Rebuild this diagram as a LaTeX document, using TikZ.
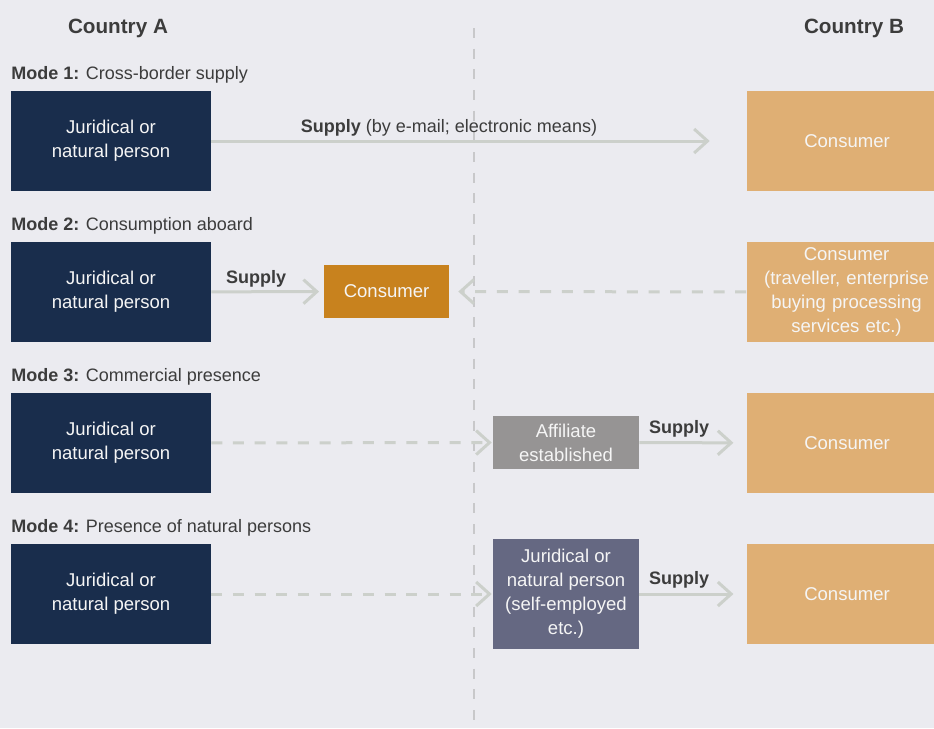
\documentclass[tikz,border=0pt]{standalone}
\usepackage{fontspec}
\setmainfont{Liberation Sans}
\usetikzlibrary{arrows.meta}
\definecolor{bgc}{RGB}{235,235,240}
\definecolor{navy}{RGB}{25,45,76}
\definecolor{sand}{RGB}{223,175,116}
\definecolor{ochre}{RGB}{200,130,30}
\definecolor{affgrey}{RGB}{150,148,148}
\definecolor{slate}{RGB}{101,104,130}
\definecolor{linec}{RGB}{204,208,203}
\definecolor{vlinec}{RGB}{200,200,202}
\definecolor{txt}{RGB}{60,60,60}
\definecolor{boxtxt}{RGB}{245,245,245}
\tikzset{
  box/.style={rectangle, inner sep=0pt, text=boxtxt, align=center,
    font=\fontsize{13.9}{18}\selectfont},
  abox/.style={box, fill=navy, minimum width=150pt, minimum height=75pt},
  cbox/.style={box, fill=sand, minimum width=150pt, minimum height=75pt},
  flow/.style={draw=linec, line width=2.25pt,
    -{Straight Barb[length=10pt,width=18pt,line width=2.25pt]}},
  dflow/.style={flow, dash pattern=on 8.25pt off 8pt},
  lbl/.style={text=txt, font=\fontsize{13.5}{18}\selectfont, inner sep=0pt},
  ttl/.style={text=txt, font=\fontsize{15.5}{18}\selectfont\bfseries, inner sep=0pt},
}
\begin{document}
\begin{tikzpicture}[x=0.75pt,y=-0.75pt]
\fill[bgc] (0,0) rectangle (934,728);
\useasboundingbox (0,0) rectangle (934,728);
\begin{scope}
\clip (0,0) rectangle (934,728);
% divider
\coordinate (vt) at (474,28);
\coordinate (vb) at (474,728);
\draw[vlinec, line width=1.2pt, dash pattern=on 7.5pt off 8pt] (vt) -- (vb);
% titles
\node[ttl, anchor=base] (ca) at (118,33) {Country A};
\node[ttl, anchor=base] (cb) at (854,33) {Country B};
% mode labels
\node[lbl, anchor=base west] (m1) at (11,79) {\textbf{Mode 1:} Cross-border supply};
\node[lbl, anchor=base west] (m2) at (11,230) {\textbf{Mode 2:} Consumption aboard};
\node[lbl, anchor=base west] (m3) at (11,381) {\textbf{Mode 3:} Commercial presence};
\node[lbl, anchor=base west] (m4) at (11,532) {\textbf{Mode 4:} Presence of natural persons};
% left boxes
\node[abox] (a1) at (111,141) {Juridical or\\natural person};
\node[abox] (a2) at (111,292) {Juridical or\\natural person};
\node[abox] (a3) at (111,443) {Juridical or\\natural person};
\node[abox] (a4) at (111,594) {Juridical or\\natural person};
% right boxes (run past the right edge)
\node[cbox] (b1) at (847,141) {Consumer};
\node[cbox, text width=146pt, xshift=-1.5pt, minimum width=150pt] (b2) at (848.5,292) {Consumer\\(traveller, enterprise\\buying processing\\services etc.)};
\node[cbox] (b3) at (847,443) {Consumer};
\node[cbox] (b4) at (847,594) {Consumer};
% middle boxes
\node[box, fill=ochre, minimum width=93.75pt, minimum height=39.75pt] (c2) at (386.5,291.5) {Consumer};
\node[box, fill=affgrey, minimum width=109.5pt, minimum height=39.75pt] (c3) at (566,442.5) {Affiliate\\established};
\node[box, fill=slate, minimum width=109.5pt, minimum height=82.5pt] (c4) at (566,594) {Juridical or\\natural person\\(self-employed\\etc.)};
% connectors
\draw[flow, shorten >=27.75pt] (a1) -- (b1);
\draw[flow, shorten >=3.5pt] (a2) -- (c2);
\draw[dflow, shorten >=6.75pt] (b2) -- (c2);
\draw[dflow, shorten >=0.75pt] (a3) -- (c3);
\draw[flow, shorten >=10pt] (c3) -- (b3);
\draw[dflow, shorten >=0.75pt] (a4) -- (c4);
\draw[flow, shorten >=10pt] (c4) -- (b4);
% connector labels
\node[lbl, anchor=base] (s1) at (449,132) {\textbf{Supply} (by e-mail; electronic means)};
\node[lbl, anchor=base] (s2) at (256,283) {\textbf{Supply}};
\node[lbl, anchor=base] (s3) at (679,433) {\textbf{Supply}};
\node[lbl, anchor=base] (s4) at (679,584) {\textbf{Supply}};
\end{scope}
\end{tikzpicture}
\end{document}
